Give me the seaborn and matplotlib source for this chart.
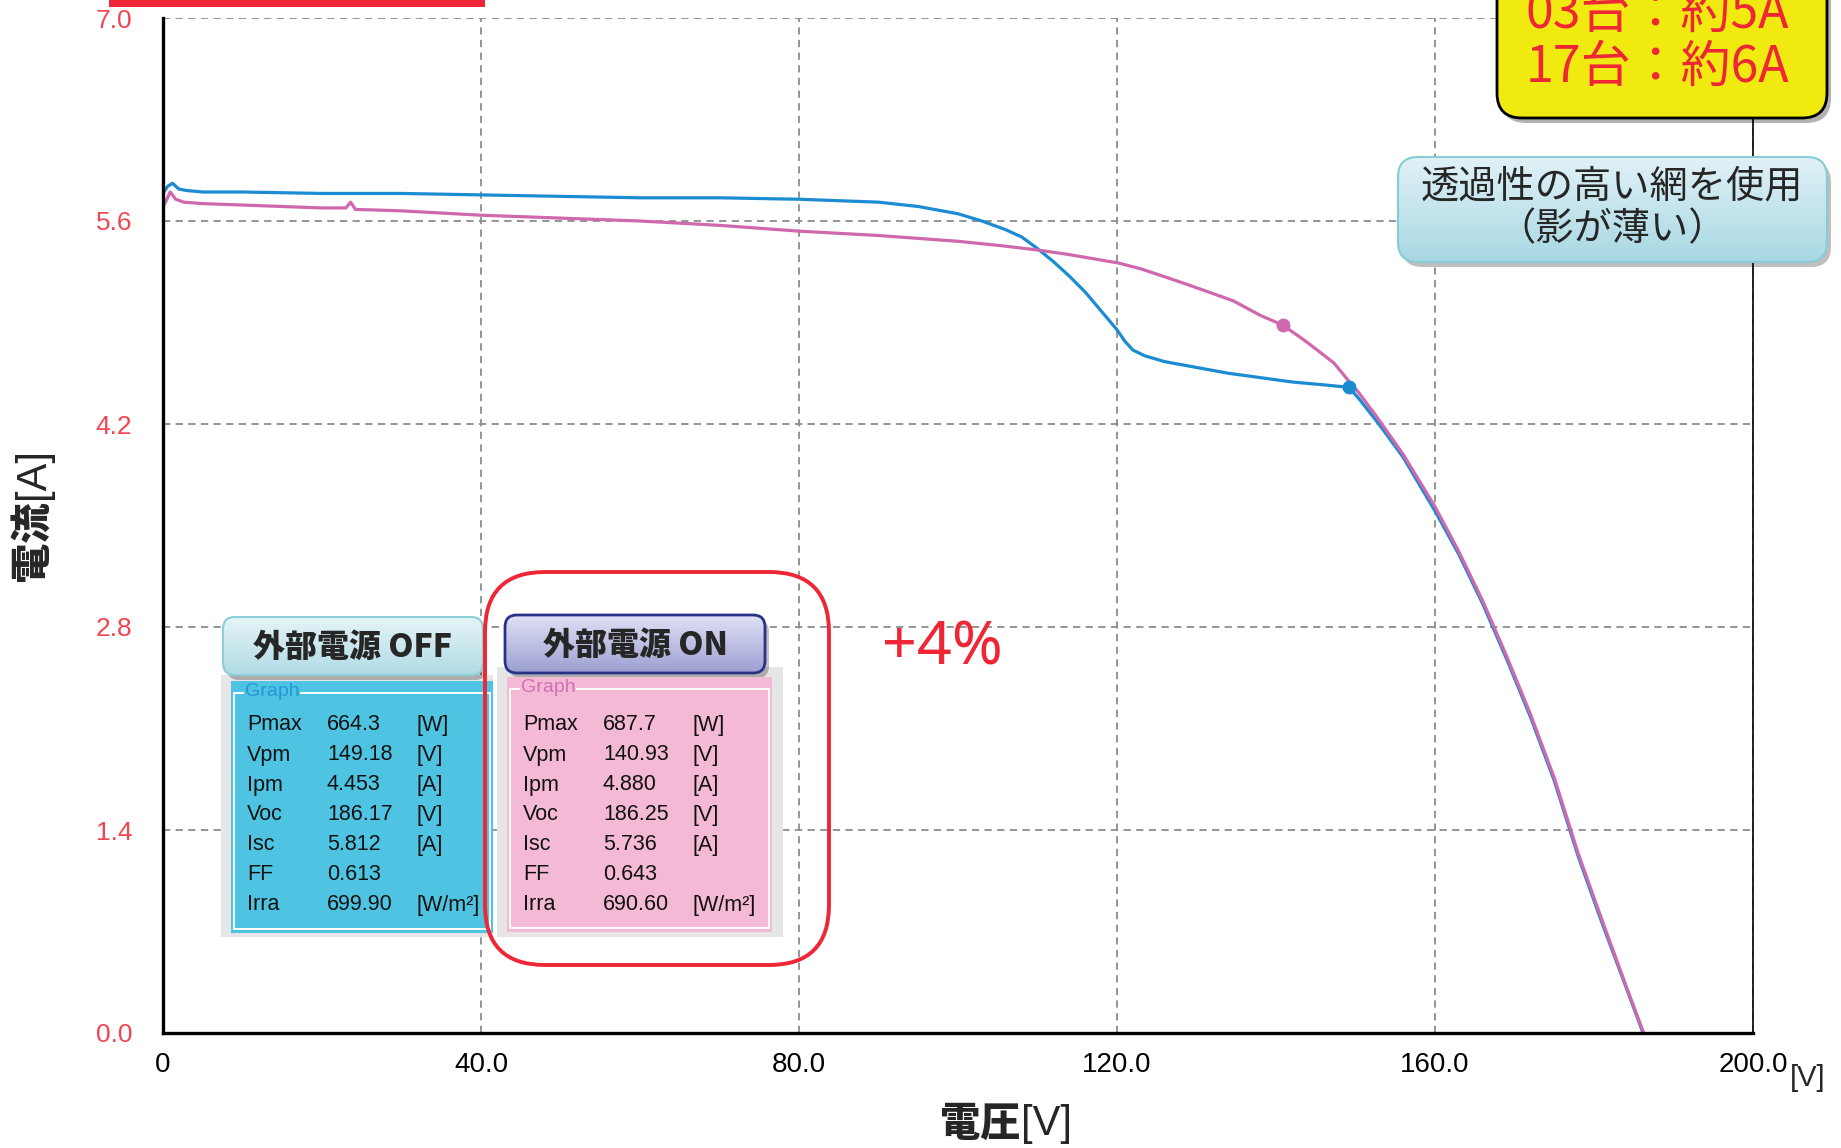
import matplotlib
matplotlib.use("Agg")
import matplotlib.pyplot as plt
from matplotlib.patches import FancyBboxPatch, Rectangle
from matplotlib.colors import to_rgb
import numpy as np
import pandas as pd
import seaborn as sns

# I-V curve, external power OFF (blue)
off_v = [0, 0.6, 1.2, 2, 3, 5, 10, 20, 30, 40, 50, 60, 70, 80, 90,
         95, 100, 103, 106, 108, 110, 112, 114, 116, 118, 120, 121, 122,
         123.5, 126, 130, 134, 138, 142, 146, 149.18, 150.5, 152.8, 156, 160,
         163, 166, 169, 172, 175, 178, 181, 184, 186.17]
off_i = [5.79, 5.84, 5.86, 5.82, 5.81, 5.80, 5.80, 5.79, 5.79, 5.78, 5.77, 5.76, 5.76, 5.75, 5.73,
         5.70, 5.65, 5.60, 5.54, 5.49, 5.41, 5.32, 5.22, 5.11, 4.98, 4.85, 4.77, 4.71,
         4.67, 4.63, 4.59, 4.55, 4.52, 4.49, 4.47, 4.453, 4.37, 4.21, 3.97, 3.60,
         3.30, 2.96, 2.58, 2.18, 1.74, 1.22, 0.76, 0.32, 0.0]

# I-V curve, external power ON (pink)
on_v = [0, 0.4, 0.9, 1.6, 2.6, 5, 10, 15, 20, 23, 23.6, 24.2,
        30, 40, 50, 60, 70, 80, 90, 100,
        105.4, 110, 113.8, 120.2, 123, 126.3, 130, 134.6, 138, 140.93,
        144, 147.3, 149.1, 150.5, 152.8, 156, 160,
        163, 166, 169, 172, 175, 178, 181, 184, 186.25]
on_i = [5.70, 5.74, 5.80, 5.75, 5.73, 5.72, 5.71, 5.70, 5.69, 5.69, 5.73, 5.68,
        5.67, 5.64, 5.62, 5.60, 5.57, 5.53, 5.50, 5.46,
        5.43, 5.40, 5.37, 5.31, 5.27, 5.21, 5.14, 5.05, 4.95, 4.88,
        4.76, 4.62, 4.50, 4.41, 4.24, 3.99, 3.63,
        3.32, 2.98, 2.60, 2.20, 1.76, 1.24, 0.78, 0.33, 0.0]

# max power points (Vpm, Ipm)
off_pm = [149.18, 4.453]
on_pm = [140.93, 4.880]

x_ticks = [0, 40, 80, 120, 160, 200]
x_tick_labels = ["0", "40.0", "80.0", "120.0", "160.0", "200.0"]
y_ticks = [0.0, 1.4, 2.8, 4.2, 5.6, 7.0]
y_tick_labels = ["0.0", "1.4", "2.8", "4.2", "5.6", "7.0"]

param_names = ["Pmax", "Vpm", "Ipm", "Voc", "Isc", "FF", "Irra"]
param_units = ["[W]", "[V]", "[A]", "[V]", "[A]", "", "[W/m²]"]
off_params = ["664.3", "149.18", "4.453", "186.17", "5.812", "0.613", "699.90"]
on_params = ["687.7", "140.93", "4.880", "186.25", "5.736", "0.643", "690.60"]

sns.set_theme(style="white")
JP = "Noto Sans CJK JP"
NARROW = "Liberation Sans"
plt.rcParams["font.family"] = [JP, "DejaVu Sans"]

BLUE = "#1b8cd2"
PINK = "#cf68ad"
RED = "#ee2636"
TICK_RED = "#f04652"

W, H = 1841, 1148
fig = plt.figure(figsize=(W / 100, H / 100), dpi=100)
fig.patch.set_facecolor("white")
ax = fig.add_axes([163 / W, 1 - 1033 / H, (1753 - 163) / W, (1033 - 18) / H])

df = pd.concat([
    pd.DataFrame({"V": off_v, "I": off_i, "state": "OFF"}),
    pd.DataFrame({"V": on_v, "I": on_i, "state": "ON"}),
])
sns.lineplot(data=df, x="V", y="I", hue="state", hue_order=["OFF", "ON"],
             palette={"OFF": BLUE, "ON": PINK}, sort=False, estimator=None,
             lw=2.3, legend=False, ax=ax)
ax.plot(off_pm[0], off_pm[1], "o", color=BLUE, ms=9, zorder=4)
ax.plot(on_pm[0], on_pm[1], "o", color=PINK, ms=9, zorder=4)

ax.set_xlim(0, 200)
ax.set_ylim(0, 7.0)
ax.set_xticks(x_ticks)
ax.set_xticklabels(x_tick_labels, family=NARROW, fontsize=20, color="black")
ax.set_yticks(y_ticks)
ax.set_yticklabels(y_tick_labels, family=NARROW, fontsize=19, color=TICK_RED)
ax.tick_params(axis="x", length=0, pad=14)
ax.tick_params(axis="y", length=0, pad=22)
ax.grid(True, ls=(0, (4, 3)), color="#8c8c8c", lw=1.3)
ax.set_xlabel("")
ax.set_ylabel("")
for s in ["left", "bottom"]:
    ax.spines[s].set_color("black")
    ax.spines[s].set_linewidth(2.4)
ax.spines["right"].set_color("black")
ax.spines["right"].set_linewidth(1.2)
ax.spines["top"].set_visible(False)

# overlay in pixel coordinates for the annotations
ov = fig.add_axes([0, 0, 1, 1], zorder=5)
ov.patch.set_alpha(0)
ov.axis("off")


def grad_box(x, y, w, h, top, bottom, edge, lw, r, shadow=True):
    style = f"round,pad=0,rounding_size={r}"
    if shadow:
        ov.add_patch(FancyBboxPatch((x + 4, y + 5), w, h, boxstyle=style,
                                    fc="black", ec="none", alpha=0.25, zorder=2))
    box = FancyBboxPatch((x, y), w, h, boxstyle=style, fc="none", ec=edge, lw=lw, zorder=3)
    ov.add_patch(box)
    t = np.linspace(0, 1, 64)[:, None, None]
    img = np.array(to_rgb(top)) * (1 - t) + np.array(to_rgb(bottom)) * t
    im = ov.imshow(img, extent=(x, x + w, y + h, y), origin="upper",
                   aspect="auto", zorder=2.5, interpolation="bilinear")
    im.set_clip_path(box)


def panel(gx, gy, gw, gh, px, py, pw, ph, color, label_color, values, lx, vx, ux):
    ov.add_patch(Rectangle((gx, gy), gw, gh, fc="#e6e6e6", ec="none", zorder=2))
    ov.add_patch(Rectangle((px, py), pw, ph, fc=color, ec="none", zorder=2.2))
    ov.add_patch(Rectangle((px + 3, py + 12), pw - 6, ph - 16, fc="none", ec="white",
                           lw=1.4, zorder=2.3))
    ov.text(lx - 2, py + 10, "Graph", family=NARROW, fontsize=14, color=label_color,
            va="center", ha="left", zorder=2.4,
            bbox=dict(fc=color, ec="none", pad=0.5))
    for k, (n, v, u) in enumerate(zip(param_names, values, param_units)):
        yy = 725 + 30 * k
        for xx, s in ((lx, n), (vx, v), (ux, u)):
            ov.text(xx, yy, s, family=NARROW, fontsize=15.5, va="center",
                    color="#111111", zorder=2.5)


panel(221, 675, 272, 262, 231, 681, 262, 252, "#4ec4e2", "#2596d6", off_params, 247, 327, 417)
panel(497, 667, 286, 270, 507, 677, 265, 255, "#f4b9d5", "#d070b4", on_params, 523, 603, 693)

# title boxes
grad_box(223, 617, 260, 58, "#e6f4f7", "#b0dbe5", "#8ccfd8", 1.5, 12)
ov.text(353, 647, "外部電源 OFF", fontsize=23, weight="black", ha="center", va="center", zorder=4)
grad_box(505, 615, 260, 58, "#e0e0f4", "#9ca0d2", "#2a3288", 2.0, 12)
ov.text(635, 645, "外部電源 ON", fontsize=23, weight="black", ha="center", va="center", zorder=4)

# red highlight around the ON panel
ov.add_patch(FancyBboxPatch((485, 572), 344, 393, boxstyle="round,pad=0,rounding_size=60",
                            fc="none", ec=RED, lw=2.8, zorder=4))
ov.text(942, 649, "+4%", family="Noto Sans", fontsize=44, color=RED,
        ha="center", va="center", zorder=4)

# callout box
grad_box(1398, 157, 429, 105, "#e0f1f6", "#a8d8e3", "#86cbd6", 1.5, 20)
ov.text(1612, 187, "透過性の高い網を使用", fontsize=27.5, ha="center", va="center", zorder=4)
ov.text(1612, 230, "（影が薄い）", fontsize=27.5, ha="center", va="center", zorder=4)

# yellow box, top right (cut off by the picture edge)
style = "round,pad=0,rounding_size=25"
ov.add_patch(FancyBboxPatch((1501, -40), 330, 163, boxstyle=style, fc="black", ec="none",
                            alpha=0.3, zorder=2))
ov.add_patch(FancyBboxPatch((1497, -45), 330, 163, boxstyle=style, fc="#f0ea10", ec="black",
                            lw=2.0, zorder=3))
ov.text(1657, 14, "03台：約5A", fontsize=36, color=RED, ha="center", va="center", zorder=4)
ov.text(1657, 68, "17台：約6A", fontsize=36, color=RED, ha="center", va="center", zorder=4)

# red bar at the top (bottom of a box outside the picture)
ov.add_patch(Rectangle((109, 0), 376, 7, fc=RED, ec="none", zorder=4))

# axis labels
ov.text(1021, 1124, "電圧", fontsize=29, weight="black", ha="right", va="center", zorder=4)
ov.text(1021, 1124, "[V]", family=NARROW, fontsize=30, ha="left", va="center", zorder=4)
ov.text(33, 581, "電流", fontsize=29, weight="black", rotation=90, ha="center", va="bottom", zorder=4)
ov.text(33, 499, "[A]", family=NARROW, fontsize=30, rotation=90, ha="center", va="bottom", zorder=4)
ov.text(1790, 1078, "[V]", family=NARROW, fontsize=21, ha="left", va="center", zorder=4)

ov.set_xlim(0, W)
ov.set_ylim(H, 0)

fig.savefig("out.png", dpi=100)
